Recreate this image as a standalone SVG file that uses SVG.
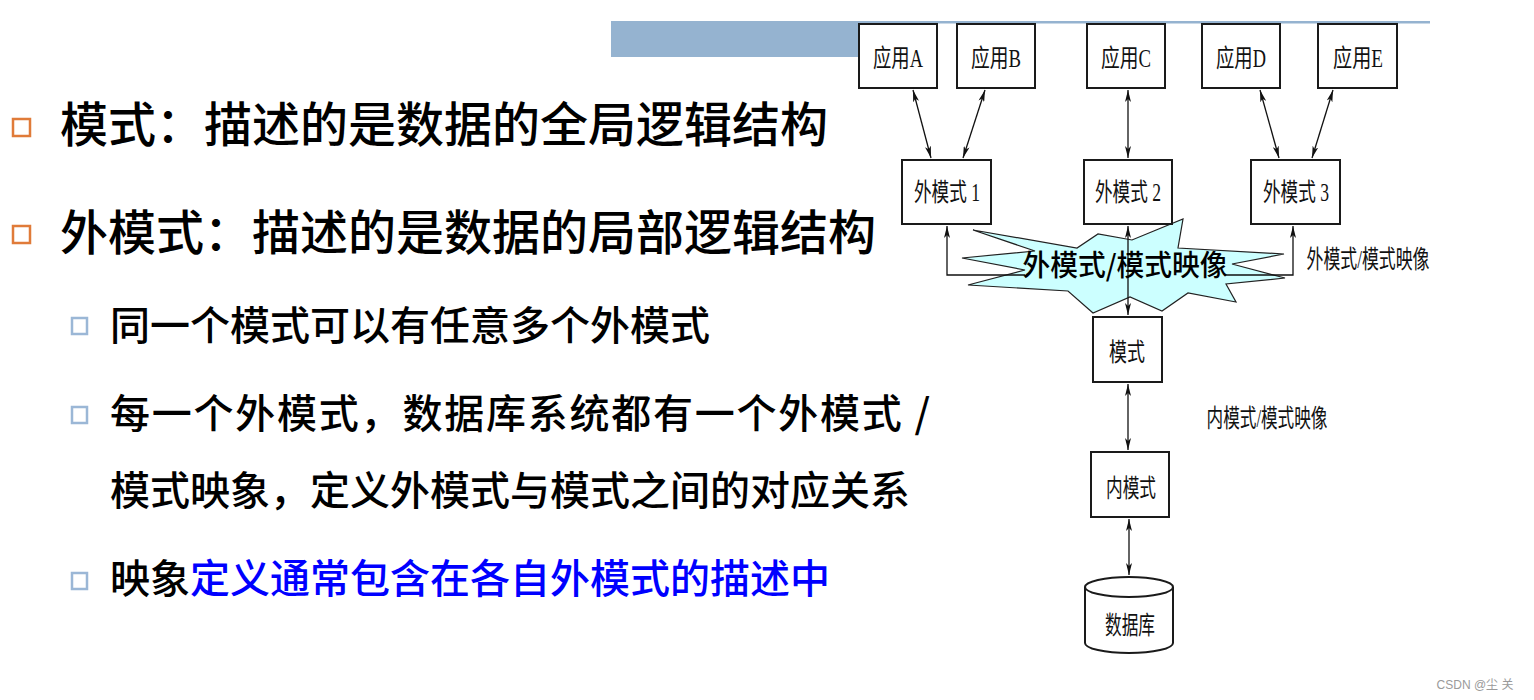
<svg xmlns="http://www.w3.org/2000/svg" width="1534" height="700" viewBox="0 0 1534 700">
<style>
.bx{fill:#fff;stroke:#1a1a1a;stroke-width:2}
.lb{font-family:"Liberation Serif","Noto Sans CJK SC",serif;font-size:25px;fill:#111;text-anchor:middle}
.big{font-family:"Noto Sans CJK SC","Noto Sans",sans-serif;fill:#000;font-weight:500}
.cn{stroke:#111;stroke-width:1.3;fill:none}
.ob{fill:none;stroke:#e07b39;stroke-width:2.5}
.sb{fill:none;stroke:#9bb7d6;stroke-width:2.5}
</style>
<defs>
<marker id="ah" viewBox="0 0 12 6" refX="12" refY="3" markerWidth="12" markerHeight="6" markerUnits="userSpaceOnUse" orient="auto-start-reverse">
<path d="M0,0 L12,3 L0,6 L3,3 z" fill="#111"/>
</marker>
</defs>
<rect x="0" y="0" width="1534" height="700" fill="#fff"/>
<g id="topbar">
<rect x="611" y="22" width="250" height="35" fill="#95b3d0"/>
<rect x="611" y="21" width="819" height="2.5" fill="#95b3d0"/>
</g>
<g id="bullets-text">
<rect class="ob" x="13" y="119" width="17" height="17"/>
<text class="big" x="60" y="142" font-size="48">模式：描述的是数据的全局逻辑结构</text>
<rect class="ob" x="13" y="226" width="17" height="17"/>
<text class="big" x="60" y="250" font-size="48">外模式：描述的是数据的局部逻辑结构</text>
<rect class="sb" x="72" y="318" width="15" height="16"/>
<text class="big" x="110" y="340" font-size="40">同一个模式可以有任意多个外模式</text>
<rect class="sb" x="72" y="407" width="15" height="16"/>
<text class="big" x="110" y="428" font-size="40" textLength="820" lengthAdjust="spacing">每一个外模式，数据库系统都有一个外模式 /</text>
<text class="big" x="110" y="505" font-size="40">模式映象，定义外模式与模式之间的对应关系</text>
<rect class="sb" x="72" y="573" width="15" height="16"/>
<text class="big" x="110" y="593" font-size="40">映象<tspan fill="#0000ff">定义通常包含在各自外模式的描述中</tspan></text>
</g>
<g id="connectors">
<line class="cn" x1="913" y1="90" x2="931" y2="158" marker-start="url(#ah)" marker-end="url(#ah)"/>
<line class="cn" x1="985" y1="90" x2="963" y2="158" marker-start="url(#ah)" marker-end="url(#ah)"/>
<line class="cn" x1="1128" y1="90" x2="1128" y2="158" marker-start="url(#ah)" marker-end="url(#ah)"/>
<line class="cn" x1="1260" y1="90" x2="1279" y2="158" marker-start="url(#ah)" marker-end="url(#ah)"/>
<line class="cn" x1="1333" y1="90" x2="1312" y2="158" marker-start="url(#ah)" marker-end="url(#ah)"/>
<line class="cn" x1="1128" y1="384" x2="1128" y2="450" marker-start="url(#ah)" marker-end="url(#ah)"/>
<line class="cn" x1="1129" y1="519" x2="1129" y2="575" marker-start="url(#ah)" marker-end="url(#ah)"/>
</g>
<g id="mapping">
<polygon points="973,230 1077,248 1098,234 1132,240 1183,219 1178,248 1284,254 1232,264 1285,278 1226,284 1236,302 1188,293 1162,311 1130,297 1093,313 1068,291 968,285 1025,270 962,258 1035,251" fill="#ccffff" stroke="#222" stroke-width="1.2"/>
<polyline class="cn" points="1025,275 947,275 947,226" marker-end="url(#ah)" stroke-width="2"/>
<polyline class="cn" points="1225,275 1293,275 1293,226" marker-end="url(#ah)" stroke-width="2"/>
<line class="cn" x1="1128" y1="226" x2="1128" y2="315" marker-start="url(#ah)" marker-end="url(#ah)"/>
<text class="big" x="1125" y="276" font-size="29" text-anchor="middle" textLength="205" lengthAdjust="spacingAndGlyphs">外模式/模式映像</text>
</g>
<g id="appA"><rect class="bx" x="859" y="24" width="78" height="64"/><text class="lb" x="898" y="67" textLength="50" lengthAdjust="spacingAndGlyphs">应用A</text></g>
<g id="appB"><rect class="bx" x="957" y="24" width="78" height="64"/><text class="lb" x="996" y="67" textLength="50" lengthAdjust="spacingAndGlyphs">应用B</text></g>
<g id="appC"><rect class="bx" x="1087" y="24" width="78" height="64"/><text class="lb" x="1126" y="67" textLength="50" lengthAdjust="spacingAndGlyphs">应用C</text></g>
<g id="appD"><rect class="bx" x="1202" y="24" width="78" height="64"/><text class="lb" x="1241" y="67" textLength="50" lengthAdjust="spacingAndGlyphs">应用D</text></g>
<g id="appE"><rect class="bx" x="1318" y="24" width="79" height="64"/><text class="lb" x="1358" y="67" textLength="50" lengthAdjust="spacingAndGlyphs">应用E</text></g>
<g id="ext1"><rect class="bx" x="902" y="160" width="89" height="64"/><text class="lb" x="947" y="201" textLength="66" lengthAdjust="spacingAndGlyphs">外模式 1</text></g>
<g id="ext2"><rect class="bx" x="1084" y="160" width="88" height="64"/><text class="lb" x="1128" y="201" textLength="66" lengthAdjust="spacingAndGlyphs">外模式 2</text></g>
<g id="ext3"><rect class="bx" x="1251" y="160" width="89" height="64"/><text class="lb" x="1296" y="201" textLength="66" lengthAdjust="spacingAndGlyphs">外模式 3</text></g>
<g id="schema"><rect class="bx" x="1093" y="317" width="69" height="65"/><text class="lb" x="1127" y="361" textLength="36" lengthAdjust="spacingAndGlyphs">模式</text></g>
<g id="internal"><rect class="bx" x="1091" y="452" width="78" height="65"/><text class="lb" x="1131" y="497" textLength="50" lengthAdjust="spacingAndGlyphs">内模式</text></g>
<g id="db">
<path d="M1085,587 L1085,643 A44,10 0 0 0 1173,643 L1173,587" fill="#fff" stroke="#1a1a1a" stroke-width="2"/>
<ellipse cx="1129" cy="587" rx="44" ry="10" fill="#fff" stroke="#1a1a1a" stroke-width="2"/>
<text class="lb" x="1130" y="634" textLength="50" lengthAdjust="spacingAndGlyphs">数据库</text>
</g>
<g id="labels">
<text class="lb" x="1368" y="268" textLength="123" lengthAdjust="spacingAndGlyphs">外模式/模式映像</text>
<text class="lb" x="1267" y="427" textLength="121" lengthAdjust="spacingAndGlyphs">内模式/模式映像</text>
</g>
<text x="1475" y="689" font-family="Liberation Sans,Noto Sans CJK SC,sans-serif" font-size="12" fill="#9a9a9a" text-anchor="middle">CSDN @尘  关</text>
</svg>
